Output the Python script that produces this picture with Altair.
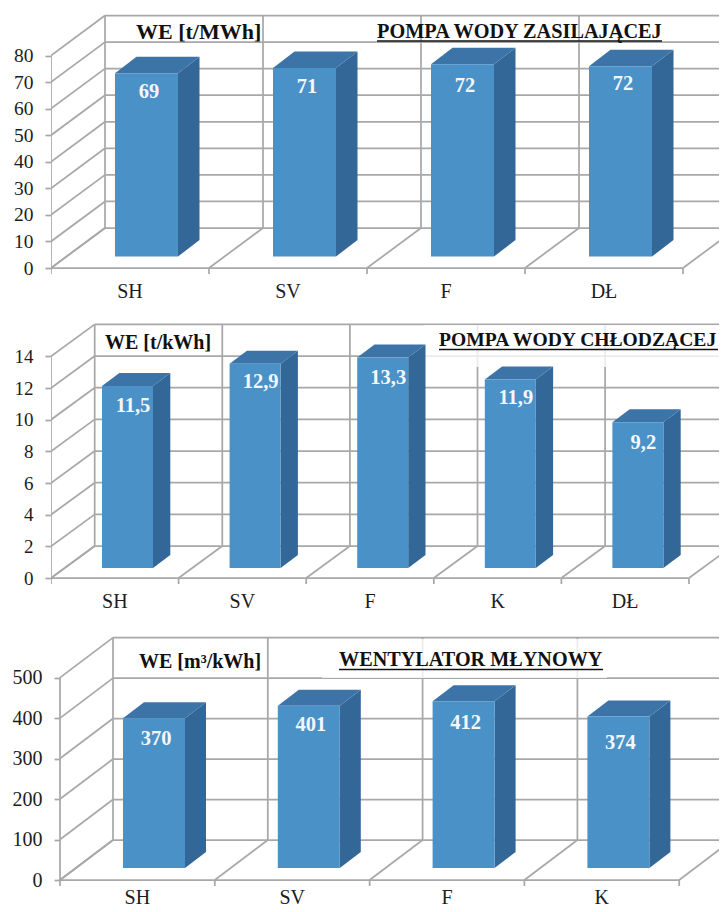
import altair as alt
import pandas as pd

# ---- data ----
cats_a = ["SH", "SV", "F", "DŁ"]
vals_a = [69, 71, 72.4, 71.6]
text_a = ["69", "71", "72", "72"]
ticks_a = [0, 10, 20, 30, 40, 50, 60, 70, 80]

cats_b = ["SH", "SV", "F", "K", "DŁ"]
vals_b = [11.5, 12.9, 13.3, 11.9, 9.2]
text_b = ["11,5", "12,9", "13,3", "11,9", "9,2"]
ticks_b = [0, 2, 4, 6, 8, 10, 12, 14]

cats_c = ["SH", "SV", "F", "K"]
vals_c = [370, 401, 412, 374]
text_c = ["370", "401", "412", "374"]
ticks_c = [0, 100, 200, 300, 400, 500]

# ---- styles / layout ----
FONT = "Liberation Serif"
GRID = "#a8a8a8"
FRONT = "#4a91c8"
TOP = "#3d74a7"
SIDE = "#336797"
INK = "#1c1c1c"
X0, X1 = 51, 719


def panel(cats, vals, text, ticks, top, bottom, ax, y0, per_unit, step, back_dx, back_dy,
          bar_off, bar_w, base_up, side_dx, side_dy, lab_off, lab_drops, cat_y, tsize,
          unit, unit_xy, unit_size, title, title_xy, title_size, rule_xyx, box=None):
    h = bottom - top
    hi, lo = (y0 - top) / per_unit, (y0 - bottom) / per_unit
    xs = alt.Scale(domain=[X0, X1], nice=False, zero=False)
    ys = alt.Scale(domain=[lo, hi], nice=False, zero=False)
    du = back_dy / per_unit  # wall depth in value units
    base = base_up / per_unit
    sdu = side_dy / per_unit
    n = len(cats)
    edges = [ax + i * step for i in range(n + 1)]

    axis = alt.Axis(values=ticks, format="d", domain=False, grid=False, title=None,
                    labelFont=FONT, labelFontSize=tsize, labelColor=INK, labelPadding=12,
                    tickColor=GRID, tickWidth=1.75, tickSize=6, offset=X0 - ax,
                    minExtent=43, maxExtent=43, labelOverlap=False, labelBound=False)

    def X():
        return alt.X("x:Q", scale=xs, axis=None)

    def Y():
        return alt.Y("y:Q", scale=ys, axis=axis)

    rows = []

    def seg(x1, y1, x2, y2):
        k = len(rows)
        rows.append(dict(x=x1, y=y1, id=k, o=0))
        rows.append(dict(x=x2, y=y2, id=k, o=1))

    ymax = ticks[-1]
    for t in ticks:
        seg(ax, t, ax + back_dx, t + du)
        seg(ax + back_dx, t + du, X1, t + du)
    seg(ax, 0, ax, ymax)
    seg(ax, 0, edges[-1], 0)
    for e in edges:
        seg(e, 0, e + back_dx, du)
        seg(e, 0, e, -6 / per_unit)
    for e in edges[:-1]:
        seg(e + back_dx, du, e + back_dx, ymax + du)
    grid_df = pd.DataFrame(rows)

    grid = alt.Chart(grid_df).mark_line(color=GRID, strokeWidth=1.75, clip=True).encode(
        x=X(), y=Y(), detail="id:N", order="o:Q")

    layers = [grid]
    if box:
        layers.append(alt.Chart(pd.DataFrame({"a": [0]})).mark_rect(color="white", opacity=0.78).encode(
            x=alt.value(box[0] - X0), x2=alt.value(box[1] - X0),
            y=alt.value(box[2] - top), y2=alt.value(box[3] - top)))

    side, topf, front, labs, catl = [], [], [], [], []
    for i, (c, v, t) in enumerate(zip(cats, vals, text)):
        L = edges[i] + bar_off
        R = L + bar_w
        tv = base + v
        side += [dict(x=R, y=base, y2=tv, b=c), dict(x=R + side_dx, y=base + sdu, y2=tv + sdu, b=c)]
        topf += [dict(y=tv, x=L, x2=R, b=c), dict(y=tv + sdu, x=L + side_dx, x2=R + side_dx, b=c)]
        front.append(dict(x=L, x2=R, y=base, y2=tv))
        labs.append(dict(x=L + lab_off, y=tv - lab_drops[i] / per_unit, t=t))
        catl.append(dict(x=edges[i] + step / 2, y=(y0 - cat_y) / per_unit, t=c))

    layers.append(alt.Chart(pd.DataFrame(side)).mark_area(color=SIDE, interpolate="linear").encode(
        x=X(), y=Y(), y2="y2:Q", detail="b:N"))
    layers.append(alt.Chart(pd.DataFrame(topf)).mark_area(color=TOP, orient="horizontal", interpolate="linear").encode(
        y=Y(), x=X(), x2="x2:Q", detail="b:N"))
    layers.append(alt.Chart(pd.DataFrame(front)).mark_rect(color=FRONT).encode(
        x=X(), x2="x2:Q", y=Y(), y2="y2:Q"))
    layers.append(alt.Chart(pd.DataFrame(labs)).mark_text(
        font=FONT, fontSize=20.5, fontWeight="bold", color="#f4f7fa", baseline="middle", align="center"
    ).encode(x=X(), y=Y(), text="t:N"))
    layers.append(alt.Chart(pd.DataFrame(catl)).mark_text(
        font=FONT, fontSize=20, color=INK, baseline="middle", align="center"
    ).encode(x=X(), y=Y(), text="t:N"))

    for txt, xy, size in ((unit, unit_xy, unit_size), (title, title_xy, title_size)):
        layers.append(alt.Chart(pd.DataFrame({"t": [txt]})).mark_text(
            font=FONT, fontSize=size, fontWeight="bold", color="#111111", align="left", baseline="alphabetic"
        ).encode(x=alt.value(xy[0] - X0), y=alt.value(xy[1] - top), text="t:N"))
    layers.append(alt.Chart(pd.DataFrame({"a": [0]})).mark_rule(color="#111111", strokeWidth=1.5).encode(
        x=alt.value(rule_xyx[0] - X0), x2=alt.value(rule_xyx[1] - X0), y=alt.value(rule_xyx[2] - top)))

    return alt.layer(*layers).properties(width=X1 - X0, height=h)


p1 = panel(cats_a, vals_a, text_a, ticks_a, 8, 306, 51, 268, 2.656, 158, 54, 40,
           64, 63, 11.5, 21.5, 16.5, 34, [19, 19, 22, 17.5], 292, 19.5,
           "WE [t/MWh]", (136, 39), 22, "POMPA WODY ZASILAJĄCEJ", (377, 38), 20.3, (377, 662, 41))
p2 = panel(cats_b, vals_b, text_b, ticks_b, 306, 612, 51, 578, 15.83, 127.6, 43.7, 32,
           51, 51, 10, 17.3, 13, 31, [20.5, 18.5, 20.5, 18.5, 20.5], 602, 19,
           "WE [t/kWh]", (105, 349), 20, "POMPA WODY CHŁODZĄCEJ", (439, 346), 19.6, (439, 718, 349.5),
           box=(424, 719, 325, 367))
p3 = panel(cats_c, vals_c, text_c, ticks_c, 612, 904, 60, 880, 0.4048, 154.8, 53, 40,
           63, 62, 12, 21, 16, 33, [21, 19.5, 22, 26], 898, 20,
           "WE [m³/kWh]", (139, 668), 20, "WENTYLATOR MŁYNOWY", (339, 666), 20.2, (339, 603, 669.5),
           box=(322, 607, 639, 678))

chart = alt.vconcat(p1, p2, p3, spacing=0, bounds="flush", padding=0).configure_view(stroke=None)
chart.save("out.html", embed_options={"renderer": "svg", "actions": False})
